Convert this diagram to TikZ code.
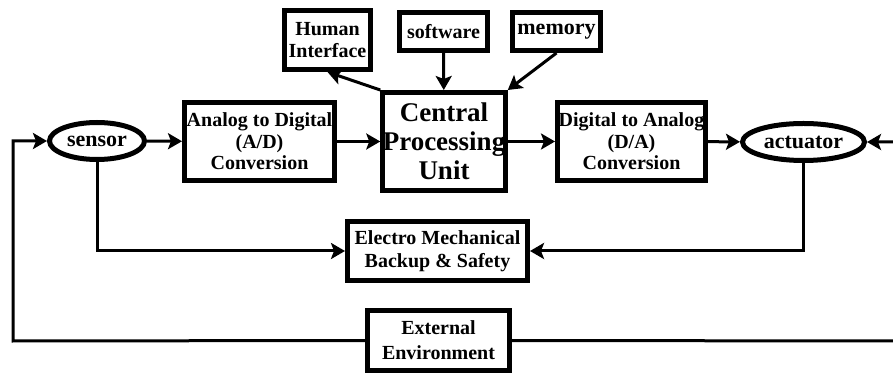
\documentclass[tikz,border=0pt]{standalone}
\usepackage{fontspec}
\setmainfont{Liberation Serif}
\usetikzlibrary{shapes.geometric,arrows.meta}
\tikzstyle{blk}=[shape=rectangle,
                draw=black,
                line width=2.5pt,
                align=center,
                inner sep=0pt]
\tikzstyle{ell}=[shape=ellipse,
                draw=black,
                line width=2.5pt,
                inner sep=0pt,
                font=\bfseries\fontsize{11}{12}\selectfont]
\tikzstyle{sig}=[line width=1.5pt,
                -{Stealth[length=7pt,width=8pt,inset=1.5pt]}]

\begin{document}
\begin{tikzpicture}[x=0.5pt,y=-0.5pt]
\useasboundingbox (0,0) rectangle (893,373);

% helper blocks on top
\node[blk, minimum width=43pt, minimum height=29.5pt,
      font=\bfseries\fontsize{10}{11.2}\selectfont] (hmi) at (327.5,40) {Human\\Interface};
\node[blk, minimum width=44pt, minimum height=19pt,
      font=\bfseries\fontsize{10}{11}\selectfont] (sw) at (443.5,31.5) {software};
\node[blk, minimum width=44pt, minimum height=19pt,
      font=\bfseries\fontsize{11}{12}\selectfont] (mem) at (556.5,31.5) {memory};

% main chain
\node[ell, minimum width=47.5pt, minimum height=18.5pt] (sensor) at (97,141) {sensor};
\node[blk, minimum width=75pt, minimum height=39pt,
      font=\bfseries\fontsize{10}{10.8}\selectfont] (adc) at (259.5,141.5) {Analog to Digital\\(A/D)\\Conversion};
\node[blk, minimum width=58.5pt, minimum height=49pt,
      font=\bfseries\fontsize{13.5}{14.4}\selectfont] (cpu) at (444,141.5) {Central\\Processing\\Unit};
\node[blk, minimum width=74pt, minimum height=39pt,
      font=\bfseries\fontsize{10}{10.8}\selectfont] (dac) at (631.5,141.5) {Digital to Analog\\(D/A)\\Conversion};
\node[ell, minimum width=61pt, minimum height=18.5pt] (act) at (803.5,142) {actuator};

% backup and environment
\node[blk, minimum width=90pt, minimum height=29.5pt,
      font=\bfseries\fontsize{10}{11.5}\selectfont] (emb) at (437.5,251) {Electro Mechanical\\Backup \& Safety};
\node[blk, minimum width=71pt, minimum height=30pt,
      font=\bfseries\fontsize{10}{12.5}\selectfont] (env) at (438.5,340.5) {External\\Environment};

% loop corners
\coordinate (lc) at (13,341);
\coordinate (rc) at (897,341);

% paths
\draw[sig] (sensor) -- (adc);
\draw[sig] (adc) -- (cpu);
\draw[sig] (cpu) -- (dac);
\draw[sig] (dac) -- (act);
\draw[sig] (cpu.north west) -- (hmi.south);
\draw[sig] (sw) -- (cpu);
\draw[sig] (mem.south) -- (cpu.north east);
\draw[sig] (sensor.south) |- (emb.west);
\draw[sig] (act.south) |- (emb.east);
\draw[sig] (env.west) -- (lc) |- (sensor.west);
\draw[sig] (env.east) -- (rc) |- (act.east);

\end{tikzpicture}
\end{document}
